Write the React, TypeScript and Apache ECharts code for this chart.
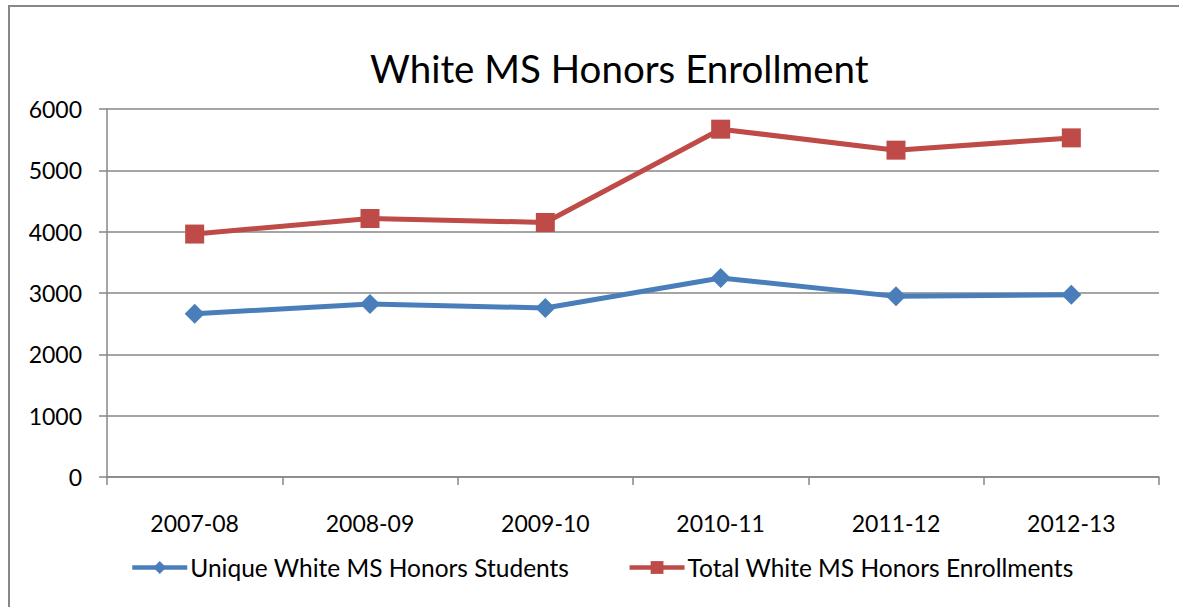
import React, { useEffect, useRef } from "react";
import * as echarts from "echarts";

const categories = ["2007-08", "2008-09", "2009-10", "2010-11", "2011-12", "2012-13"];
const uniqueStudents = [2663, 2821, 2756, 3244, 2945, 2972];
const totalEnrollments = [3961, 4215, 4150, 5671, 5329, 5529];
const titleText = "White MS Honors Enrollment";
const seriesNames = ["Unique White MS Honors Students", "Total White MS Honors Enrollments"];

export default function App() {
  const ref = useRef<HTMLDivElement>(null);
  useEffect(() => {
    if (!ref.current) return;
    const chart = echarts.init(ref.current, null, { renderer: "svg" });
    const font = "Lato";
    chart.setOption({
      animation: false,
      backgroundColor: "#ffffff",
      title: {
        text: titleText,
        left: 370,
        top: 48,
        padding: 0,
        textStyle: { fontFamily: font, fontSize: 38.5, fontWeight: "normal", color: "#000000" },
      },
      graphic: [
        {
          type: "rect",
          shape: { x: 9, y: 6, width: 1220, height: 640 },
          style: { fill: "none", stroke: "#878787", lineWidth: 2 },
          silent: true,
        },
      ],
      legend: {
        left: 130,
        top: 555,
        itemWidth: 55,
        itemHeight: 16,
        itemGap: 58,
        padding: 0,
        lineStyle: { width: 4.5 },
        textStyle: { fontFamily: font, fontSize: 24.5, color: "#000000", padding: [0, 0, 0, -2] },
        data: seriesNames,
      },
      grid: { left: 107, right: 20, top: 109, bottom: 130, containLabel: false },
      xAxis: {
        type: "category",
        data: categories,
        boundaryGap: true,
        axisLine: { show: true, lineStyle: { color: "#878787", width: 1.5 } },
        axisTick: { show: true, length: 8, alignWithLabel: false, lineStyle: { color: "#878787", width: 1.5 } },
        axisLabel: { fontFamily: font, fontSize: 23, color: "#000000", margin: 34 },
      },
      yAxis: {
        type: "value",
        min: 0,
        max: 6000,
        interval: 1000,
        axisLine: { show: true, lineStyle: { color: "#878787", width: 1.5 } },
        axisTick: { show: true, length: 8, lineStyle: { color: "#878787", width: 1.5 } },
        axisLabel: {
          fontFamily: font,
          fontSize: 23,
          color: "#000000",
          margin: 25,
          formatter: (v: number) => String(v),
        },
        splitLine: { show: true, lineStyle: { color: "#878787", width: 1.5 } },
      },
      series: [
        {
          name: seriesNames[0],
          type: "line",
          data: uniqueStudents,
          symbol: "diamond",
          symbolSize: 20,
          lineStyle: { color: "#4A7EBB", width: 5 },
          itemStyle: { color: "#4A7EBB" },
        },
        {
          name: seriesNames[1],
          type: "line",
          data: totalEnrollments,
          symbol: "rect",
          symbolSize: 19,
          lineStyle: { color: "#BE4B48", width: 5 },
          itemStyle: { color: "#BE4B48" },
        },
      ],
    });
    return () => chart.dispose();
  }, []);
  return (
    <div
      ref={ref}
      style={{ position: "fixed", left: 0, top: 0, width: 1179, height: 607 }}
    />
  );
}
